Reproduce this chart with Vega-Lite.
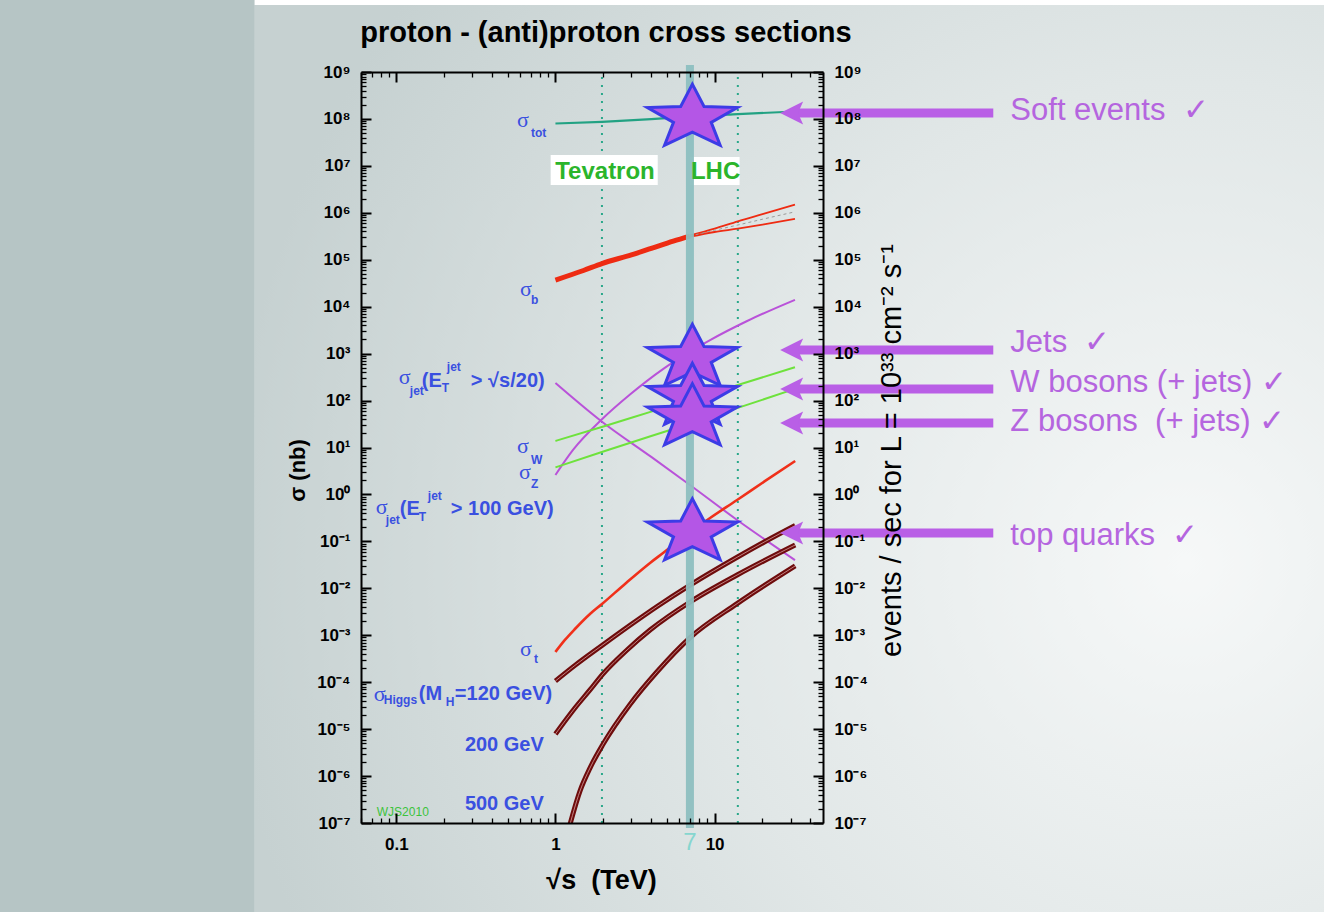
{
"$schema":"https://vega.github.io/schema/vega-lite/v6.json",
"width":462,"height":751,
"autosize":{"type":"none"},
"padding":{"left":361,"top":72,"right":501,"bottom":89},
"background":"#b6c5c5",
"config":{"view":{"stroke":null},"axis":{"grid":false,"labelFont":"Liberation Sans","labelFontSize":17,"labelFontWeight":"bold","labelColor":"#000000","tickColor":"#000000","domainColor":"#000000","titleColor":"#000000","titleFont":"Liberation Sans","labelFlush":false,"labelOverlap":false}},
"datasets":{
"curves":[
{"s":"tot","x":1,"y":8.0e7},{"s":"tot","x":1.96,"y":8.7e7},{"s":"tot","x":4,"y":9.9e7},{"s":"tot","x":7,"y":1.13e8},{"s":"tot","x":14,"y":1.27e8},{"s":"tot","x":32,"y":1.44e8},
{"s":"bthick","x":1,"y":3.7e4},{"s":"bthick","x":1.5,"y":5.9e4},{"s":"bthick","x":1.96,"y":8.3e4},{"s":"bthick","x":3,"y":1.27e5},{"s":"bthick","x":4,"y":1.75e5},{"s":"bthick","x":5.5,"y":2.5e5},{"s":"bthick","x":7,"y":3.2e5},
{"s":"bhi","x":7,"y":3.3e5},{"s":"bhi","x":10,"y":4.6e5},{"s":"bhi","x":14,"y":6.6e5},{"s":"bhi","x":20,"y":9.4e5},{"s":"bhi","x":32,"y":1.5e6},
{"s":"blo","x":7,"y":3.1e5},{"s":"blo","x":10,"y":3.9e5},{"s":"blo","x":14,"y":4.6e5},{"s":"blo","x":20,"y":5.6e5},{"s":"blo","x":32,"y":7.4e5},
{"s":"bmid","x":7,"y":3.2e5},{"s":"bmid","x":10,"y":4.25e5},{"s":"bmid","x":14,"y":5.5e5},{"s":"bmid","x":20,"y":7.3e5},{"s":"bmid","x":32,"y":1.05e6},
{"s":"jrise","x":1,"y":2.6},{"s":"jrise","x":1.29,"y":8.87},{"s":"jrise","x":1.96,"y":39.8},{"s":"jrise","x":2.94,"y":134},{"s":"jrise","x":4.74,"y":467},{"s":"jrise","x":7.0,"y":1099},{"s":"jrise","x":9.37,"y":1945},{"s":"jrise","x":15.9,"y":4900},{"s":"jrise","x":32,"y":14000},
{"s":"jfall","x":1,"y":237},{"s":"jfall","x":1.96,"y":35.5},{"s":"jfall","x":4,"y":6.3},{"s":"jfall","x":7,"y":1.59},{"s":"jfall","x":13.85,"y":0.286},{"s":"jfall","x":32,"y":0.040},
{"s":"W","x":1,"y":13.8},{"s":"W","x":2,"y":28},{"s":"W","x":4,"y":58},{"s":"W","x":7,"y":104},{"s":"W","x":14,"y":214},{"s":"W","x":32,"y":512},
{"s":"Z","x":1,"y":3.78},{"s":"Z","x":2,"y":8.2},{"s":"Z","x":4,"y":17.6},{"s":"Z","x":7,"y":32.3},{"s":"Z","x":14,"y":69.7},{"s":"Z","x":32,"y":177},
{"s":"t","x":1,"y":4.41e-4},{"s":"t","x":1.147,"y":7.94e-4},{"s":"t","x":1.326,"y":1.36e-3},{"s":"t","x":1.648,"y":2.84e-3},{"s":"t","x":1.961,"y":4.63e-3},{"s":"t","x":2.735,"y":1.24e-2},{"s":"t","x":3.93,"y":3.47e-2},{"s":"t","x":4.745,"y":5.66e-2},{"s":"t","x":7.015,"y":0.158},{"s":"t","x":9.37,"y":0.315},{"s":"t","x":13.85,"y":0.762},{"s":"t","x":20.8,"y":1.94},{"s":"t","x":32.1,"y":5.16},
{"s":"H120","x":1,"y":1.06e-4},{"s":"H120","x":1.326,"y":2.28e-4},{"s":"H120","x":1.99,"y":6.28e-4},{"s":"H120","x":2.94,"y":1.63e-3},{"s":"H120","x":4.35,"y":4.10e-3},{"s":"H120","x":7.015,"y":1.17e-2},{"s":"H120","x":13.85,"y":4.58e-2},{"s":"H120","x":20.8,"y":9.93e-2},{"s":"H120","x":32.1,"y":0.217},
{"s":"H200","x":1,"y":7.89e-6},{"s":"H200","x":1.326,"y":2.82e-5},{"s":"H200","x":1.648,"y":6.83e-5},{"s":"H200","x":1.99,"y":1.50e-4},{"s":"H200","x":2.817,"y":4.85e-4},{"s":"H200","x":3.93,"y":1.29e-3},{"s":"H200","x":7.015,"y":5.11e-3},{"s":"H200","x":13.85,"y":1.92e-2},{"s":"H200","x":32.1,"y":8.38e-2},
{"s":"H500","x":1.198,"y":6.44e-8},{"s":"H500","x":1.426,"y":4.79e-7},{"s":"H500","x":1.648,"y":1.48e-6},{"s":"H500","x":1.99,"y":4.76e-6},{"s":"H500","x":2.94,"y":3.36e-5},{"s":"H500","x":4.35,"y":1.67e-4},{"s":"H500","x":7.015,"y":8.91e-4},{"s":"H500","x":13.85,"y":4.72e-3},{"s":"H500","x":32.1,"y":3.00e-2}
]
},
"encoding":{
"x":{"field":"x","type":"quantitative","scale":{"type":"log","domain":[0.06,48],"nice":false},"axis":null},
"y":{"field":"y","type":"quantitative","scale":{"type":"log","domain":[1e-7,1e9],"nice":false},"axis":null}
},
"resolve":{"axis":{"x":"independent","y":"independent"}},
"layer":[
{"data":{"values":[{"x":0.01288,"x2":68100,"y":1.27e-9,"y2":3.42e10}]},
 "mark":{"type":"rect","strokeWidth":0,"fill":{"gradient":"radial","x1":0.87,"y1":0.6,"r1":0,"x2":0.87,"y2":0.6,"r2":0.9,"stops":[{"offset":0,"color":"#f6f8f8"},{"offset":0.5,"color":"#e1e7e7"},{"offset":1,"color":"#c6d1d1"}]}},
 "encoding":{"x2":{"field":"x2"},"y2":{"field":"y2"}}},
{"data":{"values":[{"x":0.01288,"x2":68100,"y":2.67e10,"y2":3.42e10}]},
 "mark":{"type":"rect","fill":"#ffffff","strokeWidth":0},
 "encoding":{"x2":{"field":"x2"},"y2":{"field":"y2"}}},
{"data":{"values":[{"x":1.96,"y":1e-7,"y2":1e9},{"x":14,"y":1e-7,"y2":1e9}]},
 "mark":{"type":"rule","color":"#2aa88a","strokeWidth":2,"strokeDash":[2,6]},
 "encoding":{"y2":{"field":"y2"}}},
{"data":{"values":[{"x":0.933,"x2":4.393,"y":3.917e6,"y2":1.706e7},{"x":7.015,"x2":14.36,"y":3.917e6,"y2":1.546e7}]},
 "mark":{"type":"rect","fill":"#ffffff","strokeWidth":0},
 "encoding":{"x2":{"field":"x2"},"y2":{"field":"y2"}}},
{"data":{"name":"curves"},"transform":[{"filter":"datum.s == 'tot'"}],
 "mark":{"type":"line","color":"#22a283","strokeWidth":2.2,"clip":true,"interpolate":"monotone"},"encoding":{}},
{"data":{"name":"curves"},"transform":[{"filter":"datum.s == 'bthick'"}],
 "mark":{"type":"line","color":"#ee2b12","strokeWidth":5,"clip":true,"interpolate":"monotone"},"encoding":{}},
{"data":{"name":"curves"},"transform":[{"filter":{"field":"s","oneOf":["bhi","blo"]}}],
 "mark":{"type":"line","color":"#ee2b12","strokeWidth":1.8,"clip":true,"interpolate":"monotone"},"encoding":{"detail":{"field":"s"}}},
{"data":{"name":"curves"},"transform":[{"filter":"datum.s == 'bmid'"}],
 "mark":{"type":"line","color":"#9a9a9a","strokeWidth":1,"strokeDash":[3,3],"clip":true,"interpolate":"monotone"},"encoding":{}},
{"data":{"name":"curves"},"transform":[{"filter":{"field":"s","oneOf":["jrise","jfall"]}}],
 "mark":{"type":"line","color":"#b952d9","strokeWidth":2,"clip":true,"interpolate":"monotone"},"encoding":{"detail":{"field":"s"}}},
{"data":{"name":"curves"},"transform":[{"filter":{"field":"s","oneOf":["W","Z"]}}],
 "mark":{"type":"line","color":"#6ee23c","strokeWidth":2,"clip":true,"interpolate":"monotone"},"encoding":{"detail":{"field":"s"}}},
{"data":{"name":"curves"},"transform":[{"filter":"datum.s == 't'"}],
 "mark":{"type":"line","color":"#f0301a","strokeWidth":2.6,"clip":true,"interpolate":"monotone"},"encoding":{}},
{"data":{"name":"curves"},"transform":[{"filter":{"field":"s","oneOf":["H120","H200","H500"]}}],
 "mark":{"type":"line","color":"#6e0c0c","strokeWidth":5,"clip":true,"interpolate":"monotone"},"encoding":{"detail":{"field":"s"}}},
{"data":{"name":"curves"},"transform":[{"filter":{"field":"s","oneOf":["H120","H200","H500"]}}],
 "mark":{"type":"line","color":"#d8a0a0","strokeWidth":0.8,"clip":true,"interpolate":"monotone"},"encoding":{"detail":{"field":"s"}}},
{"data":{"values":[{"x":7,"y":7.82e-8,"y2":1.41e9}]},
 "mark":{"type":"rule","color":"#8dbfc0","strokeWidth":8,"opacity":0.95},
 "encoding":{"y2":{"field":"y2"}}},
{"data":{"values":[{"t":"7","x":7,"y":3.76e-8}]},
 "mark":{"type":"text","font":"Liberation Sans","fontSize":24,"color":"#86d6cf","align":"center","baseline":"middle"},
 "encoding":{"text":{"field":"t"}}},
{"data":{"values":[
 {"t":"σ","x":0.5728,"y":6.736e7},{"t":"σ","x":0.5978,"y":1.690e4},{"t":"σ","x":0.5728,"y":7.642},{"t":"σ","x":0.5893,"y":2.135},{"t":"σ","x":0.5978,"y":3.62e-4},{"t":"σ","x":0.1037,"y":225.5},{"t":"σ","x":0.0743,"y":0.3835},{"t":"σ","x":0.0722,"y":3.98e-5}]},
 "mark":{"type":"text","font":"Liberation Serif","fontSize":22,"color":"#3a50e0","align":"left","baseline":"alphabetic"},
 "encoding":{"text":{"field":"t"}}},
{"data":{"values":[
 {"t":"tot","x":0.7014,"y":4.124e7},{"t":"b","x":0.7014,"y":1.114e4},{"t":"W","x":0.7014,"y":4.456},{"t":"Z","x":0.7014,"y":1.373},{"t":"t","x":0.7322,"y":2.57e-4},
 {"t":"jet","x":0.1216,"y":131.5},{"t":"jet","x":0.0859,"y":0.2348},{"t":"Higgs","x":0.0834,"y":3.44e-5},
 {"t":"T","x":0.1933,"y":152.3},{"t":"jet","x":0.2078,"y":426.8},{"t":"T","x":0.1385,"y":0.272},{"t":"jet","x":0.1578,"y":0.7621},{"t":"H","x":0.2048,"y":3.11e-5}]},
 "mark":{"type":"text","font":"Liberation Sans","fontSize":12,"fontWeight":"bold","color":"#3a50e0","align":"left","baseline":"alphabetic"},
 "encoding":{"text":{"field":"t"}}},
{"data":{"values":[
 {"t":"(E","x":0.1447,"y":194.7},{"t":"> √s/20)","x":0.2941,"y":194.7},
 {"t":"(E","x":0.1052,"y":0.365},{"t":"> 100 GeV)","x":0.2202,"y":0.365},
 {"t":"(M","x":0.1385,"y":4.18e-5},{"t":"=120 GeV)","x":0.2333,"y":4.18e-5},
 {"t":"200 GeV","x":0.2697,"y":3.43e-6},{"t":"500 GeV","x":0.2697,"y":1.90e-7}]},
 "mark":{"type":"text","font":"Liberation Sans","fontSize":20,"fontWeight":"bold","color":"#3a50e0","align":"left","baseline":"alphabetic"},
 "encoding":{"text":{"field":"t"}}},
{"data":{"values":[{"t":"WJS2010","x":0.0754,"y":1.41e-7}]},
 "mark":{"type":"text","font":"Liberation Sans","fontSize":12,"color":"#3cc33c","align":"left","baseline":"alphabetic"},
 "encoding":{"text":{"field":"t"}}},
{"data":{"values":[{"t":"Tevatron","x":2.048,"y":5.18e6},{"t":"LHC","x":10.15,"y":5.18e6}]},
 "mark":{"type":"text","font":"Liberation Sans","fontSize":24,"fontWeight":"bold","color":"#2bb52b","align":"center","baseline":"alphabetic"},
 "encoding":{"text":{"field":"t"}}},
{"data":{"values":[{"x":7.25,"y":1.05e8},{"x":7.25,"y":807},{"x":7.25,"y":119},{"x":7.25,"y":43.6},{"x":7.25,"y":0.155}]},
 "mark":{"type":"point","shape":"M0,-0.715L0.247,-0.243L0.951,-0.221L0.399,0.093L0.588,0.578L0,0.3L-0.588,0.578L-0.399,0.093L-0.951,-0.221L-0.247,-0.243Z","size":8950,"filled":true,"fill":"#b456e6","stroke":"#3c3ce6","strokeWidth":3,"opacity":1,"strokeJoin":"miter"},
 "encoding":{}},
{"data":{"values":[{"x":33.0,"x2":564,"y":1.34e8},{"x":33.0,"x2":564,"y":1196},{"x":33.0,"x2":564,"y":176.6},{"x":33.0,"x2":564,"y":33.3},{"x":33.0,"x2":564,"y":0.151}]},
 "mark":{"type":"rule","color":"#b95fe6","strokeWidth":9},
 "encoding":{"x2":{"field":"x2"}}},
{"data":{"values":[{"x":30.5,"y":1.34e8},{"x":30.5,"y":1196},{"x":30.5,"y":176.6},{"x":30.5,"y":33.3},{"x":30.5,"y":0.151}]},
 "mark":{"type":"point","shape":"M-1,0L1,-1L0.55,0L1,1Z","size":529,"filled":true,"fill":"#b95fe6","strokeWidth":0,"opacity":1},
 "encoding":{}},
{"data":{"values":[{"t":"Soft events\u00a0\u00a0✓","x":722,"y":9.49e7},{"t":"Jets\u00a0\u00a0✓","x":722,"y":1057},{"t":"W bosons (+ jets)\u00a0✓","x":722,"y":154.6},{"t":"Z bosons\u00a0\u00a0(+ jets)\u00a0✓","x":722,"y":22.8},{"t":"top quarks\u00a0\u00a0✓","x":722,"y":0.0851}]},
 "mark":{"type":"text","font":"Liberation Sans","fontSize":31,"color":"#b565df","align":"left","baseline":"alphabetic"},
 "encoding":{"text":{"field":"t"}}},
{"data":{"values":[{"t":"proton - (anti)proton cross sections","x":2.078,"y":4.35e9}]},
 "mark":{"type":"text","font":"Liberation Sans","fontSize":29,"fontWeight":"bold","color":"#000000","align":"center","baseline":"alphabetic"},
 "encoding":{"text":{"field":"t"}}},
{"data":{"values":[{"x":1,"y":1}]},"mark":{"type":"point","opacity":0},
 "encoding":{
 "x":{"field":"x","type":"quantitative","scale":{"type":"log","domain":[0.06,48],"nice":false},"axis":{"zindex":2,"orient":"bottom","values":[0.1,1,10],"labelExpr":"datum.value < 0.5 ? '0.1' : datum.value < 5 ? '1' : '10'","ticks":false,"domain":false,"labelPadding":13,"title":"√s\u00a0\u00a0(TeV)","titleFontSize":27,"titleFontWeight":"bold","titleX":240,"titleY":57,"titleBaseline":"middle","titleAlign":"center"}},
 "y":{"field":"y","type":"quantitative","scale":{"type":"log","domain":[1e-7,1e9],"nice":false},"axis":{"zindex":2,"orient":"left","values":[1e-7,1e-6,1e-5,1e-4,1e-3,1e-2,0.1,1,10,100,1000,1e4,1e5,1e6,1e7,1e8,1e9],"labelExpr":"'10' + ['⁻⁷','⁻⁶','⁻⁵','⁻⁴','⁻³','⁻²','⁻¹','⁰','¹','²','³','⁴','⁵','⁶','⁷','⁸','⁹'][round(log(datum.value)/LN10)+7]","ticks":false,"domain":false,"labelPadding":11,"title":"σ (nb)","titleFontSize":22,"titleFontWeight":"bold","titleX":-52,"titleY":398,"titleAngle":270,"titleAlign":"center","titleBaseline":"bottom"}}
 }},
{"data":{"values":[{"x":1,"y":1}]},"mark":{"type":"point","opacity":0},
 "encoding":{
 "x":{"field":"x","type":"quantitative","scale":{"type":"log","domain":[0.06,48],"nice":false},"axis":{"zindex":2,"orient":"bottom","values":[0.1,1,10],"labels":false,"title":null,"tickSize":-10,"tickWidth":2,"domain":true,"domainWidth":2}},
 "y":{"field":"y","type":"quantitative","scale":{"type":"log","domain":[1e-7,1e9],"nice":false},"axis":{"zindex":2,"orient":"left","values":[1e-7,1e-6,1e-5,1e-4,1e-3,1e-2,0.1,1,10,100,1000,1e4,1e5,1e6,1e7,1e8,1e9],"labels":false,"title":null,"tickSize":-10,"tickWidth":2,"domain":true,"domainWidth":2}}
 }},
{"data":{"values":[{"x":1,"y":1}]},"mark":{"type":"point","opacity":0},
 "encoding":{
 "x":{"field":"x","type":"quantitative","scale":{"type":"log","domain":[0.06,48],"nice":false},"axis":{"zindex":2,"orient":"bottom","values":[0.06,0.07,0.08,0.09,0.2,0.3,0.4,0.5,0.6,0.7,0.8,0.9,2,3,4,5,6,7,8,9,20,30,40],"labels":false,"title":null,"tickSize":-5,"tickWidth":1.3,"domain":false}},
 "y":{"field":"y","type":"quantitative","scale":{"type":"log","domain":[1e-7,1e9],"nice":false},"axis":{"zindex":2,"orient":"left","values":[2e-7,3e-7,4e-7,5e-7,6e-7,7e-7,8e-7,9e-7,2e-6,3e-6,4e-6,5e-6,6e-6,7e-6,8e-6,9e-6,2e-5,3e-5,4e-5,5e-5,6e-5,7e-5,8e-5,9e-5,2e-4,3e-4,4e-4,5e-4,6e-4,7e-4,8e-4,9e-4,0.002,0.003,0.004,0.005,0.006,0.007,0.008,0.009,0.02,0.03,0.04,0.05,0.06,0.07,0.08,0.09,0.2,0.3,0.4,0.5,0.6,0.7,0.8,0.9,2,3,4,5,6,7,8,9,20,30,40,50,60,70,80,90,200,300,400,500,600,700,800,900,2000,3000,4000,5000,6000,7000,8000,9000,2e4,3e4,4e4,5e4,6e4,7e4,8e4,9e4,2e5,3e5,4e5,5e5,6e5,7e5,8e5,9e5,2e6,3e6,4e6,5e6,6e6,7e6,8e6,9e6,2e7,3e7,4e7,5e7,6e7,7e7,8e7,9e7,2e8,3e8,4e8,5e8,6e8,7e8,8e8,9e8],"labels":false,"title":null,"tickSize":-5,"tickWidth":1.3,"domain":false}}
 }},
{"data":{"values":[{"x":1,"y":1}]},"mark":{"type":"point","opacity":0},
 "encoding":{
 "x":{"field":"x","type":"quantitative","scale":{"type":"log","domain":[0.06,48],"nice":false},"axis":{"zindex":2,"orient":"top","values":[0.1,1,10],"labels":false,"title":null,"tickSize":-10,"tickWidth":2,"domain":true,"domainWidth":2}},
 "y":{"field":"y","type":"quantitative","scale":{"type":"log","domain":[1e-7,1e9],"nice":false},"axis":{"zindex":2,"orient":"right","values":[1e-7,1e-6,1e-5,1e-4,1e-3,1e-2,0.1,1,10,100,1000,1e4,1e5,1e6,1e7,1e8,1e9],"labelExpr":"'10' + ['⁻⁷','⁻⁶','⁻⁵','⁻⁴','⁻³','⁻²','⁻¹','⁰','¹','²','³','⁴','⁵','⁶','⁷','⁸','⁹'][round(log(datum.value)/LN10)+7]","ticks":false,"domain":false,"labelPadding":11,"title":"events / sec for L = 10³³ cm⁻² s⁻¹","titleFontSize":29,"titleFontWeight":"normal","titleX":68,"titleY":378,"titleAngle":270,"titleAlign":"center","titleBaseline":"middle"}}
 }},
{"data":{"values":[{"x":1,"y":1}]},"mark":{"type":"point","opacity":0},
 "encoding":{
 "x":{"field":"x","type":"quantitative","scale":{"type":"log","domain":[0.06,48],"nice":false},"axis":{"zindex":2,"orient":"top","values":[0.06,0.07,0.08,0.09,0.2,0.3,0.4,0.5,0.6,0.7,0.8,0.9,2,3,4,5,6,7,8,9,20,30,40],"labels":false,"title":null,"tickSize":-5,"tickWidth":1.3,"domain":false}},
 "y":{"field":"y","type":"quantitative","scale":{"type":"log","domain":[1e-7,1e9],"nice":false},"axis":{"zindex":2,"orient":"right","values":[1e-7,1e-6,1e-5,1e-4,1e-3,1e-2,0.1,1,10,100,1000,1e4,1e5,1e6,1e7,1e8,1e9],"labels":false,"title":null,"tickSize":-10,"tickWidth":2,"domain":true,"domainWidth":2}}
 }},
{"data":{"values":[{"x":1,"y":1}]},"mark":{"type":"point","opacity":0},
 "encoding":{
 "x":{"field":"x","type":"quantitative","scale":{"type":"log","domain":[0.06,48],"nice":false},"axis":null},
 "y":{"field":"y","type":"quantitative","scale":{"type":"log","domain":[1e-7,1e9],"nice":false},"axis":{"zindex":2,"orient":"right","values":[2e-7,3e-7,4e-7,5e-7,6e-7,7e-7,8e-7,9e-7,2e-6,3e-6,4e-6,5e-6,6e-6,7e-6,8e-6,9e-6,2e-5,3e-5,4e-5,5e-5,6e-5,7e-5,8e-5,9e-5,2e-4,3e-4,4e-4,5e-4,6e-4,7e-4,8e-4,9e-4,0.002,0.003,0.004,0.005,0.006,0.007,0.008,0.009,0.02,0.03,0.04,0.05,0.06,0.07,0.08,0.09,0.2,0.3,0.4,0.5,0.6,0.7,0.8,0.9,2,3,4,5,6,7,8,9,20,30,40,50,60,70,80,90,200,300,400,500,600,700,800,900,2000,3000,4000,5000,6000,7000,8000,9000,2e4,3e4,4e4,5e4,6e4,7e4,8e4,9e4,2e5,3e5,4e5,5e5,6e5,7e5,8e5,9e5,2e6,3e6,4e6,5e6,6e6,7e6,8e6,9e6,2e7,3e7,4e7,5e7,6e7,7e7,8e7,9e7,2e8,3e8,4e8,5e8,6e8,7e8,8e8,9e8],"labels":false,"title":null,"tickSize":-5,"tickWidth":1.3,"domain":false}}
 }}
]
}
